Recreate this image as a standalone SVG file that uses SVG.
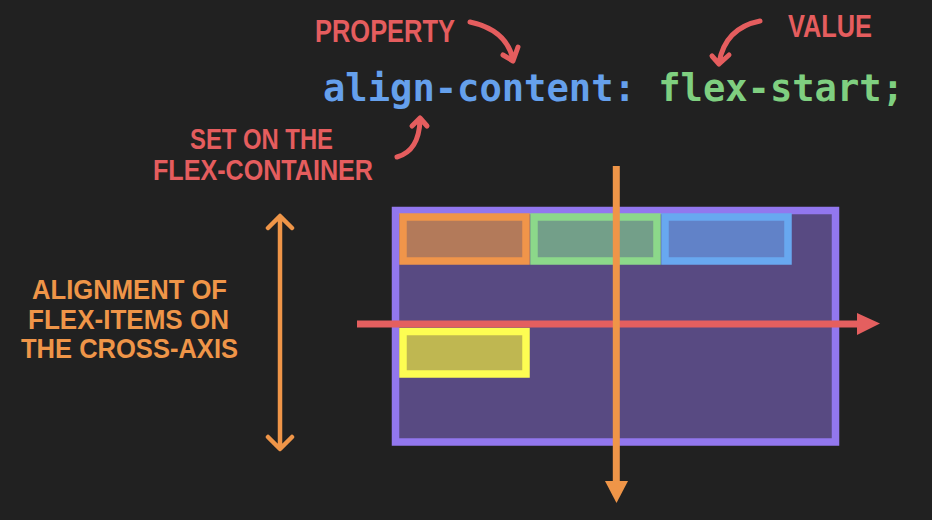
<svg xmlns="http://www.w3.org/2000/svg" width="932" height="520" viewBox="0 0 932 520">
<style>
.hand{font-family:"Liberation Sans","DejaVu Sans",sans-serif;font-weight:bold;}
.red{fill:#e55d5e;}
.org{fill:#ef9548;}
.code{font-family:"DejaVu Sans Mono","Liberation Mono",monospace;font-weight:bold;font-size:37px;}
.curve{fill:none;stroke:#e55d5e;stroke-width:5;stroke-linecap:round;stroke-linejoin:round;}
.item{stroke-width:7.5;}
</style>
<rect x="0" y="0" width="932" height="520" fill="#212121"/>
<g id="code">
<text class="code" x="323" y="101" textLength="581" lengthAdjust="spacingAndGlyphs"><tspan fill="#65a0ec">align-content:</tspan><tspan fill="#7fcf80"> flex-start;</tspan></text>
</g>
<g id="label-property"><text class="hand red" x="315" y="42" font-size="32" textLength="140" lengthAdjust="spacingAndGlyphs">PROPERTY</text></g>
<g id="label-value"><text class="hand red" x="788" y="37" font-size="32" textLength="84" lengthAdjust="spacingAndGlyphs">VALUE</text></g>
<g id="label-set">
<text class="hand red" x="190" y="149" font-size="29" textLength="143" lengthAdjust="spacingAndGlyphs">SET ON THE</text>
<text class="hand red" x="153" y="180" font-size="29" textLength="220" lengthAdjust="spacingAndGlyphs">FLEX-CONTAINER</text>
</g>
<g id="label-alignment">
<text class="hand org" x="32" y="299" font-size="28" textLength="195" lengthAdjust="spacingAndGlyphs">ALIGNMENT OF</text>
<text class="hand org" x="28" y="328.5" font-size="28" textLength="201" lengthAdjust="spacingAndGlyphs">FLEX-ITEMS ON</text>
<text class="hand org" x="21" y="358" font-size="28" textLength="217" lengthAdjust="spacingAndGlyphs">THE CROSS-AXIS</text>
</g>
<g id="container">
<rect x="395.5" y="210.5" width="440" height="231.5" fill="#584a82" stroke="#9277ee" stroke-width="7.5"/>
</g>
<g id="item-orange"><rect class="item" x="403" y="217" width="123" height="44" fill="#b37a5a" stroke="#f0954a"/></g>
<g id="item-green"><rect class="item" x="534" y="217" width="123" height="44" fill="#739f89" stroke="#8cd88a"/></g>
<g id="item-blue"><rect class="item" x="665" y="217" width="123" height="44" fill="#6182c8" stroke="#68a8f0"/></g>
<g id="item-yellow"><rect class="item" x="403" y="331.5" width="123" height="42.5" fill="#bfb751" stroke="#fdfd52"/></g>
<g id="connectors">
<path class="curve" d="M470,22 Q507,30 513,60 M503,55 L513,61 L518,47"/>
<path class="curve" d="M760,21 Q725,28 719,63 M712,56 L719,64 L729,55"/>
<path class="curve" d="M397,157 Q419,151 420,120 M412,126 L420,118 L427,126"/>
<path d="M280,217 V448 M268,228 L280,216 L292,228 M268,437 L280,449 L292,437" fill="none" stroke="#ef9548" stroke-width="4.5" stroke-linecap="round" stroke-linejoin="round"/>
<line x1="357" y1="324" x2="860" y2="324" stroke="#e45f5f" stroke-width="7"/>
<polygon points="857,313 880,323.5 857,335" fill="#e45f5f"/>
<line x1="616.3" y1="166" x2="616.3" y2="484" stroke="#ef9548" stroke-width="7"/>
<polygon points="605,481 628,481 616.5,503" fill="#ef9548"/>
</g>
</svg>
